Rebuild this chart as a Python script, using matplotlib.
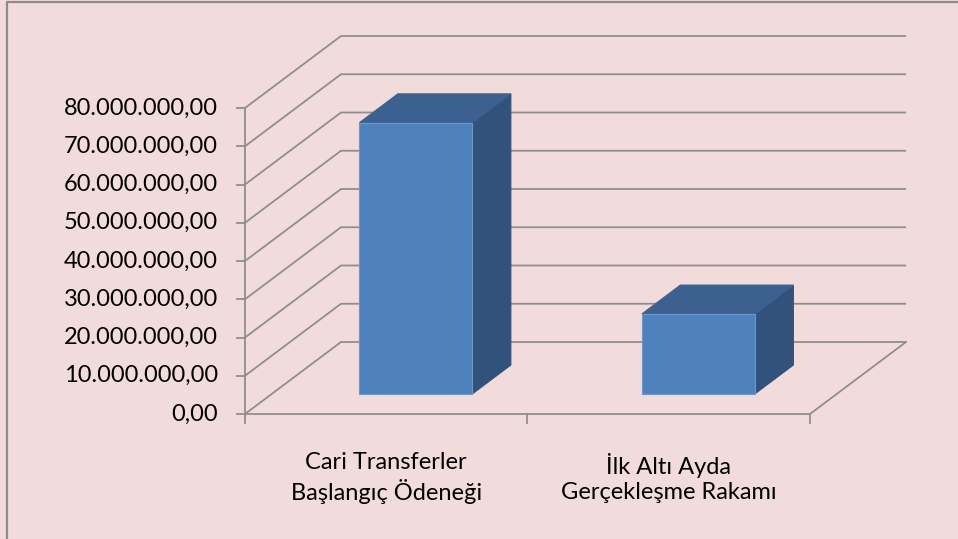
"""
Pseudo-3D column chart: Cari Transferler vs Ilk Alti Ayda Gerceklesme.
"""
import matplotlib
matplotlib.use('Agg')
import matplotlib.pyplot as plt
from matplotlib.patches import Polygon

# Data
categories = ['Cari Transferler\nBaşlangıç Ödeneği', 'İlk Altı Ayda\nGerçekleşme Rakamı']
values = [70_900_000, 20_900_000]
y_ticks = [0, 10_000_000, 20_000_000, 30_000_000, 40_000_000,
           50_000_000, 60_000_000, 70_000_000, 80_000_000]
y_max = 80_000_000

# Oblique projection (figure pixel space)
X0, Y0 = 245, 414          # front-left-bottom corner
CAT_W = 282.5               # pixels per category
VAL_H = 306 / y_max         # pixels per unit value
DX, DY = 96, 72             # depth offset at full depth


def proj(c, v, d):
    return (X0 + c * CAT_W + d * DX, Y0 - v * VAL_H - d * DY)


def fmt(v):
    s = f'{v:,.2f}'
    return s.replace(',', 'X').replace('.', ',').replace('X', '.')


grid_color = '#8E8E8E'
bg = '#F2DCDB'
font = 'Lato'
n = len(categories)

fig = plt.figure(figsize=(9.58, 5.39), dpi=100, facecolor=bg)
ax = fig.add_axes([0, 0, 1, 1])
ax.set_xlim(0, 958)
ax.set_ylim(539, 0)
ax.axis('off')
ax.set_facecolor(bg)

# Outer frame (only top and left edges fall inside the picture)
ax.plot([7, 7, 960], [545, 1.5, 1.5], color='#8C8C8C', lw=1.6)

# Walls: left-wall diagonals and back-wall horizontals
for t in y_ticks:
    x1, y1 = proj(0, t, 0)
    x2, y2 = proj(0, t, 1)
    x3, y3 = proj(n, t, 1)
    ax.plot([x1, x2, x3], [y1, y2, y3], color=grid_color, lw=1.3,
            solid_capstyle='butt', zorder=1)

# Floor: front and right edges
fl = [proj(0, 0, 0), proj(n, 0, 0), proj(n, 0, 1)]
ax.plot([p[0] for p in fl], [p[1] for p in fl], color=grid_color, lw=1.3, zorder=1)

# Value axis line and ticks
xa, ya0 = proj(0, 0, 0)
_, ya1 = proj(0, y_max, 0)
ax.plot([xa, xa], [ya0 + 2, ya1], color=grid_color, lw=1.3, zorder=1)
for t in y_ticks:
    x, y = proj(0, t, 0)
    ax.plot([x - 8, x], [y, y], color=grid_color, lw=1.3, zorder=1)
    ax.text(x - 27, y, fmt(t), ha='right', va='center', fontsize=17,
            family=font, color='black')

# Category ticks and labels
for i in range(n + 1):
    x, y = proj(i, 0, 0)
    ax.plot([x, x], [y, y + 9], color=grid_color, lw=1.3, zorder=1)
for i, lab in enumerate(categories):
    x, y = proj(i + 0.5, 0, 0)
    ax.text(x, y + 64, lab, ha='center', va='center', fontsize=17,
            family=font, linespacing=1.25, color='black')

# Bars
front_c, top_c, side_c = '#4F81BD', '#3C6190', '#31527B'
d0, d1 = 0.28, 0.68
half = 0.2
for i, v in enumerate(values):
    cl, cr = i + 0.51 - half, i + 0.51 + half
    front = [proj(cl, 0, d0), proj(cr, 0, d0), proj(cr, v, d0), proj(cl, v, d0)]
    top = [proj(cl, v, d0), proj(cr, v, d0), proj(cr, v, d1), proj(cl, v, d1)]
    side = [proj(cr, 0, d0), proj(cr, 0, d1), proj(cr, v, d1), proj(cr, v, d0)]
    ax.add_patch(Polygon(side, closed=True, facecolor=side_c, edgecolor=side_c, lw=0.8, zorder=3))
    ax.add_patch(Polygon(top, closed=True, facecolor=top_c, edgecolor=top_c, lw=0.8, zorder=3))
    ax.add_patch(Polygon(front, closed=True, facecolor=front_c, edgecolor='#7096C8', lw=0.8, zorder=4))

fig.savefig('out.png', dpi=100, facecolor=bg)
plt.close(fig)
